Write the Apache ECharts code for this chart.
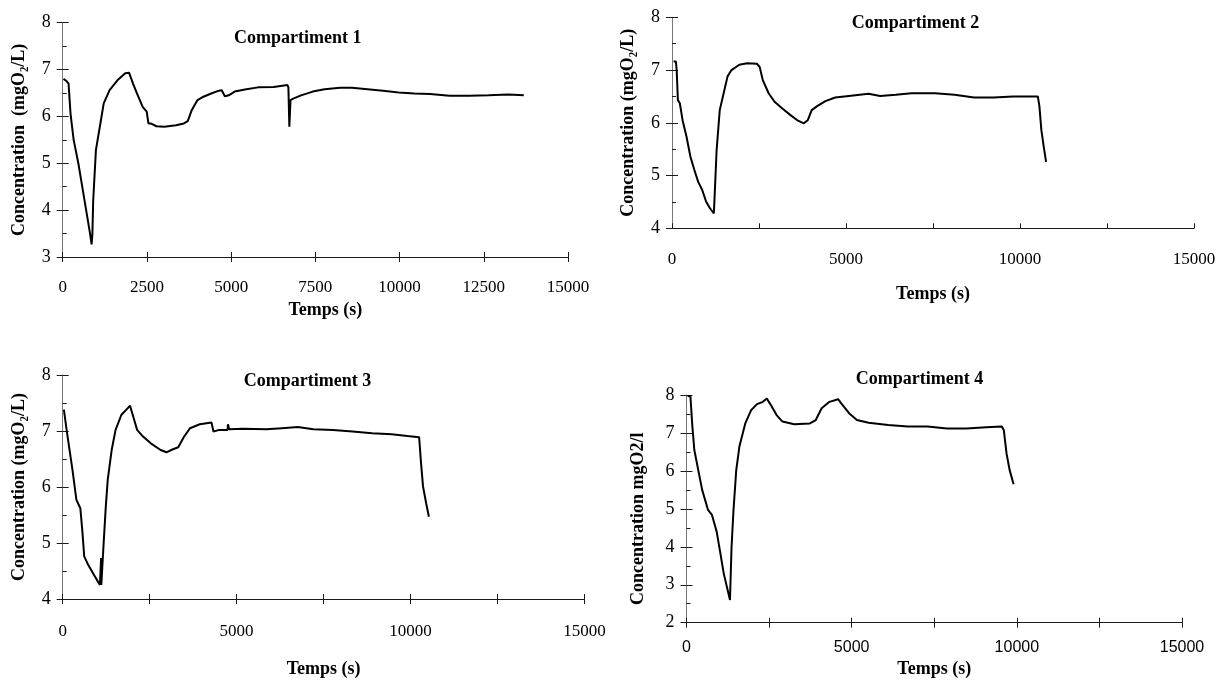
<!DOCTYPE html>
<html><head><meta charset="utf-8">
<script src="https://cdn.jsdelivr.net/npm/echarts@6/dist/echarts.min.js"></script>
<style>html,body{margin:0;padding:0;background:#fff}#c{width:1228px;height:682px}</style>
</head><body><div id="c"></div><script>
// ---- Data (time in s, concentration in mgO2/L) ----
const titles = ['Compartiment 1', 'Compartiment 2', 'Compartiment 3', 'Compartiment 4'];
const yNames = ['Concentration  (mgO\u2082/L)', 'Concentration (mgO\u2082/L)', 'Concentration (mgO\u2082/L)', 'Concentration mgO2/l'];
const xName = 'Temps (s)';

const t1 = [23,120,174,209,232,325,464,580,696,812,858,882,905,986,1102,1218,1392,1624,1856,1972,2088,2204,2378,2494,2529,2545,2610,2784,3016,3364,3596,3712,3828,4002,4176,4408,4640,4721,4814,4930,5104,5452,5800,6264,6670,6700,6728,6763,6844,7076,7424,7772,8236,8584,9048,9512,9976,10440,10904,11484,12064,12644,13224,13688];
const c1 = [6.80,6.75,6.70,6.67,6.06,5.50,5.00,4.50,4.00,3.50,3.27,3.50,4.20,5.28,5.78,6.28,6.56,6.77,6.92,6.93,6.70,6.49,6.20,6.10,6.06,5.85,5.85,5.79,5.78,5.81,5.85,5.90,6.13,6.35,6.42,6.49,6.55,6.56,6.43,6.45,6.53,6.58,6.62,6.63,6.67,6.62,5.78,6.35,6.38,6.45,6.53,6.58,6.61,6.61,6.58,6.55,6.51,6.49,6.48,6.44,6.44,6.45,6.47,6.45];

const t2 = [45,112,135,169,225,304,416,528,641,753,866,978,1091,1203,1237,1282,1372,1484,1597,1709,1934,2159,2440,2519,2609,2777,2946,3171,3396,3621,3789,3902,4014,4183,4408,4689,5082,5645,5982,6432,6881,7556,8118,8680,9243,9805,10255,10513,10558,10614,10682,10749];
const c2 = [7.16,7.16,7.00,6.43,6.37,6.05,5.74,5.36,5.11,4.88,4.73,4.51,4.38,4.28,4.79,5.48,6.24,6.56,6.88,7.00,7.10,7.13,7.12,7.06,6.81,6.56,6.40,6.27,6.15,6.04,5.99,6.05,6.24,6.32,6.41,6.48,6.51,6.55,6.51,6.53,6.56,6.56,6.53,6.48,6.48,6.50,6.50,6.50,6.31,5.86,5.55,5.26];

const t3 = [34,90,113,169,282,394,507,563,619,732,901,1070,1095,1104,1110,1149,1182,1239,1295,1408,1520,1689,1858,1937,2027,2140,2309,2534,2815,2984,3153,3322,3491,3660,3941,4279,4335,4504,4740,4752,4786,5180,5856,6306,6757,7207,7770,8333,8896,9459,9910,10248,10304,10360,10450,10529];
const c3 = [7.38,7.40,7.02,6.78,6.30,5.77,5.62,5.23,4.76,4.61,4.43,4.25,4.27,4.73,4.25,4.22,5.05,5.65,6.13,6.66,7.02,7.29,7.40,7.45,7.26,7.02,6.90,6.78,6.66,6.62,6.67,6.71,6.90,7.05,7.12,7.15,6.99,7.02,7.02,7.12,7.03,7.04,7.03,7.05,7.07,7.03,7.02,6.99,6.96,6.94,6.91,6.89,6.42,6.01,5.71,5.47];

const t4 = [36,119,178,237,356,474,652,771,913,1008,1127,1245,1316,1364,1423,1506,1601,1779,1957,2134,2312,2431,2550,2727,2905,3261,3735,3913,4091,4328,4589,4684,4921,5158,5514,6107,6700,7293,7886,8478,9071,9546,9605,9688,9783,9902];
const c4 = [7.98,7.96,7.17,6.55,6.02,5.50,4.97,4.84,4.40,3.92,3.30,2.86,2.60,4.00,4.97,6.02,6.64,7.25,7.60,7.76,7.82,7.91,7.74,7.47,7.30,7.23,7.25,7.34,7.65,7.82,7.89,7.78,7.52,7.34,7.27,7.21,7.17,7.17,7.12,7.12,7.15,7.17,7.08,6.46,6.02,5.65];

const yMins = [3, 4, 4, 2];
const yMax = 8;
const xMax = 15000;
const xTickStep = 2500;
const xLabelSteps = [2500, 5000, 5000, 5000];

// ---- Layout / style ----
const SERIF = '"Liberation Serif","Times New Roman",serif';
const SANS = '"Liberation Sans",Arial,sans-serif';
const times = [t1, t2, t3, t4];
const concs = [c1, c2, c3, c4];
const layout = [
  {grid:{left:62.7,right:660,top:22.7,bottom:425}, cross:true, xMargin:22, xGap:44, xPad:[0,0,0,20], yGap:34, yPad:[0,0,0,0], xFont:SERIF, xSize:17, title:[297.7,38]},
  {grid:{left:672,right:34,top:17.3,bottom:453.7}, cross:false, xMargin:23, xGap:57, xPad:[0,0,0,0], yGap:35, yPad:[0,0,0,0], xFont:SERIF, xSize:17, title:[915.6,23.3]},
  {grid:{left:62.7,right:643.6,top:375,bottom:83}, cross:true, xMargin:24, xGap:61, xPad:[0,0,0,0], yGap:34, yPad:[0,0,0,0], xFont:SERIF, xSize:17, title:[307.5,381.7]},
  {grid:{left:686.5,right:46,top:395,bottom:59.3}, cross:true, xMargin:17, xGap:38, xPad:[0,0,0,0], yGap:39, yPad:[0,20,0,0], xFont:SANS, xSize:16, title:[919.5,379]}
];

const grids = [], xAxes = [], yAxes = [], series = [], graphics = [];
layout.forEach((L, i) => {
  grids.push(Object.assign({containLabel:false}, L.grid));
  const step = xLabelSteps[i];
  xAxes.push({
    gridIndex:i, type:'value', min:0, max:xMax, interval:xTickStep, position:'bottom',
    axisLine:{show:true, lineStyle:{color:'#1a1a1a', width:1}},
    axisTick:{show:true, inside:!L.cross, length:5, lineStyle:{color:'#1a1a1a'}},
    axisLabel:{margin:L.xMargin, fontFamily:L.xFont, fontSize:L.xSize, color:'#000',
      formatter:v => (v % step === 0 ? String(v) : '')},
    splitLine:{show:false},
    name:xName, nameLocation:'middle', nameGap:L.xGap,
    nameTextStyle:{fontFamily:SERIF, fontWeight:'bold', fontSize:18, color:'#000', padding:L.xPad}
  });
  xAxes.push({
    gridIndex:i, type:'value', min:0, max:xMax, interval:xTickStep, position:'bottom',
    axisLine:{show:false}, axisTick:{show:L.cross, inside:true, length:5, lineStyle:{color:'#1a1a1a'}},
    axisLabel:{show:false}, splitLine:{show:false}
  });
  yAxes.push({
    gridIndex:i, type:'value', min:yMins[i], max:yMax, interval:1, position:'left',
    axisLine:{show:true, lineStyle:{color:'#777', width:1}},
    axisTick:{show:true, inside:false, length:6, lineStyle:{color:'#1a1a1a'}},
    axisLabel:{margin:12, fontFamily:SERIF, fontSize:18, color:'#000'},
    splitLine:{show:false},
    name:yNames[i], nameLocation:'middle', nameGap:L.yGap,
    nameTextStyle:{fontFamily:SERIF, fontWeight:'bold', fontSize:18, color:'#000', padding:L.yPad}
  });
  yAxes.push({
    gridIndex:i, type:'value', min:yMins[i], max:yMax, interval:1, position:'left',
    axisLine:{show:false},
    axisTick:{show:true, inside:true, length:6, lineStyle:{color:'#1a1a1a'}},
    minorTick:{show:true, splitNumber:2, length:4, lineStyle:{color:'#1a1a1a'}},
    axisLabel:{show:false}, splitLine:{show:false}, minorSplitLine:{show:false}
  });
  series.push({
    type:'line', xAxisIndex:2*i, yAxisIndex:2*i, showSymbol:false, symbol:'none',
    lineStyle:{color:'#000', width:2}, silent:true,
    data: times[i].map((t, k) => [t, concs[i][k]])
  });
  graphics.push({
    type:'text', x:L.title[0], y:L.title[1],
    style:{text:titles[i], font:'bold 18px ' + SERIF, fill:'#000',
      align:'center', verticalAlign:'middle', textAlign:'center', textVerticalAlign:'middle'}
  });
});

const chart = echarts.init(document.getElementById('c'), null, {renderer:'canvas'});
chart.setOption({
  animation:false,
  backgroundColor:'#fff',
  grid:grids, xAxis:xAxes, yAxis:yAxes, series:series, graphic:graphics
});
</script></body></html>
